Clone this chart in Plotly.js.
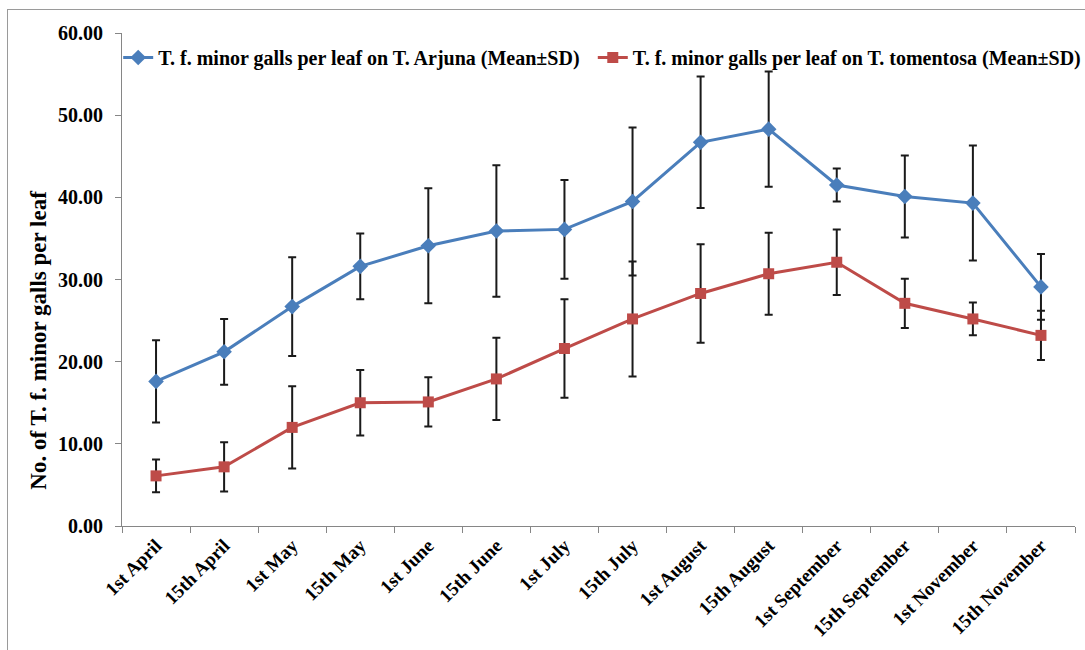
<!DOCTYPE html>
<html>
<head>
<meta charset="utf-8">
<script src="https://cdn.plot.ly/plotly-3.0.1.min.js"></script>
<style>
html,body{margin:0;padding:0;background:#fff;}
#wrap{position:relative;width:1085px;height:650px;overflow:hidden;}
#chart{width:1085px;height:650px;}
#frame{position:absolute;left:7px;top:9px;width:1200px;height:800px;border:1px solid #9a9a9a;pointer-events:none;}
</style>
</head>
<body>
<div id="wrap"><div id="chart"></div><div id="frame"></div></div>
<script>
const categories = ["1st April","15th April","1st May","15th May","1st June","15th June","1st July","15th July","1st August","15th August","1st September","15th September","1st November","15th November"];
const arjunaMean = [17.6,21.2,26.7,31.6,34.1,35.9,36.1,39.5,46.7,48.3,41.5,40.1,39.3,29.1];
const arjunaSD   = [5,4,6,4,7,8,6,9,8,7,2,5,7,4];
const tomentosaMean = [6.1,7.2,12.0,15.0,15.1,17.9,21.6,25.2,28.3,30.7,32.1,27.1,25.2,23.2];
const tomentosaSD   = [2,3,5,4,3,5,6,7,6,5,4,3,2,3];
const seriesNames = ["T. f. minor galls per leaf on T. Arjuna (Mean±SD)","T. f. minor galls per leaf on T. tomentosa (Mean±SD)"];
const yTitle = "No. of T. f. minor galls per leaf";

const font = "Liberation Serif, Times New Roman, serif";
const err = (a)=>({type:'data',array:a,visible:true,color:'#1a1a1a',thickness:2,width:4});

const traces = [
 {x:categories,y:arjunaMean,name:seriesNames[0],type:'scatter',mode:'lines+markers',legend:'legend',
  line:{color:'#4A7EBB',width:3},marker:{symbol:'diamond',size:12,color:'#4A7EBB'},error_y:err(arjunaSD)},
 {x:categories,y:tomentosaMean,name:seriesNames[1],type:'scatter',mode:'lines+markers',legend:'legend2',
  line:{color:'#BE4B48',width:3},marker:{symbol:'square',size:11,color:'#BE4B48'},error_y:err(tomentosaSD)}
];

const legFont = {family:font,size:20,color:'#000',weight:'bold'};
const layout = {
 width:1085,height:650,
 margin:{l:122,r:10,t:33,b:124,autoexpand:false},
 paper_bgcolor:'#fff',plot_bgcolor:'#fff',
 font:{family:font,color:'#000'},
 showlegend:true,
 legend:{orientation:'h',x:-0.004,y:0.99,xanchor:'left',yanchor:'top',
   font:legFont,bgcolor:'rgba(0,0,0,0)',itemwidth:30},
 legend2:{orientation:'h',x:0.494,y:0.99,xanchor:'left',yanchor:'top',
   font:legFont,bgcolor:'rgba(0,0,0,0)',itemwidth:30},
 xaxis:{type:'category',range:[-0.5,13.5],showline:true,linecolor:'#868686',linewidth:1,
   ticks:'outside',tickson:'boundaries',ticklen:6,tickcolor:'#868686',showgrid:false,zeroline:false,
   tickangle:-45,tickfont:{family:font,size:19,color:'#000',weight:'bold'}},
 yaxis:{range:[0,60],dtick:10,tickformat:'.2f',showline:true,linecolor:'#868686',linewidth:1,
   ticks:'outside',ticklen:6,tickcolor:'#868686',showgrid:false,zeroline:false,ticklabelstandoff:8,
   tickfont:{family:font,size:20,color:'#000',weight:'bold'}},
 annotations:[{text:'<b>'+yTitle+'</b>',xref:'paper',yref:'paper',x:-0.087,y:0.376,
   textangle:-90,showarrow:false,xanchor:'center',yanchor:'middle',
   font:{family:font,size:23,color:'#000'}}]
};
Plotly.newPlot('chart',traces,layout,{displayModeBar:false,staticPlot:true});
</script>
</body>
</html>
